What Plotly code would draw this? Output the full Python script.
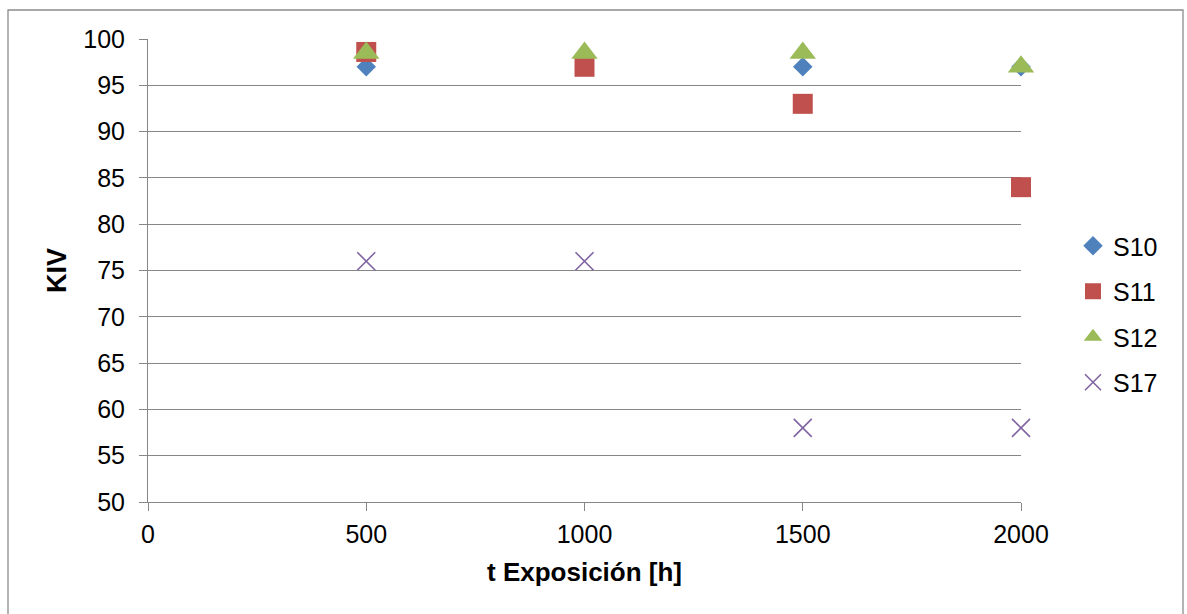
import plotly.graph_objects as go

x_hours = [500, 1000, 1500, 2000]
s10 = [97, 97, 97, 97]
s11 = [98.6, 97, 93, 84]
s12 = [98.5, 98.5, 98.5, 97]
s17 = [76, 76, 58, 58]
x_ticks = [0, 500, 1000, 1500, 2000]
y_ticks = [50, 55, 60, 65, 70, 75, 80, 85, 90, 95, 100]

FONT = "Liberation Sans, Arial, sans-serif"
W, H = 1187, 614
L, R, T, B = 148, 166, 39, 112
pw, ph = W - L - R, H - T - B

fig = go.Figure()
fig.add_trace(go.Scatter(x=x_hours, y=s10, mode="markers", name="S10", legendgroup="a",
                         cliponaxis=False,
                         marker=dict(symbol="diamond", size=15, color="#4F81BD")))
fig.add_trace(go.Scatter(x=x_hours, y=s11, mode="markers", name="S11", legendgroup="b",
                         cliponaxis=False,
                         marker=dict(symbol="square", size=20, color="#C0504D")))
fig.add_trace(go.Scatter(x=x_hours, y=s12, mode="markers", name="S12", legendgroup="c",
                         cliponaxis=False,
                         marker=dict(symbol="triangle-up", size=23, color="#9BBB59")))
fig.add_trace(go.Scatter(x=x_hours, y=s17, mode="markers", name="S17", legendgroup="d",
                         cliponaxis=False,
                         marker=dict(symbol="x-thin", size=18, color="#8064A2",
                                     line=dict(color="#8064A2", width=1.6))))

def px_x(p):
    return (p - L) / pw

def px_y(p):
    return (H - B - p) / ph

fig.add_shape(type="rect", xref="paper", yref="paper",
              x0=px_x(8), x1=px_x(1183), y0=px_y(640), y1=px_y(10),
              line=dict(color="#8c8c8c", width=1.3), fillcolor="rgba(0,0,0,0)", layer="below")

fig.update_layout(
    width=W, height=H,
    margin=dict(l=L, r=R, t=T, b=B, autoexpand=False),
    paper_bgcolor="white", plot_bgcolor="white",
    font=dict(family=FONT, size=25, color="black"),
    showlegend=True,
    legend=dict(x=px_x(1073), y=px_y(314), xanchor="left", yanchor="middle",
                font=dict(size=25), tracegroupgap=10, bgcolor="rgba(0,0,0,0)",
                itemsizing="trace"),
    xaxis=dict(range=[0, 2000], tickvals=x_ticks, showgrid=False, zeroline=False,
               showline=True, linecolor="#868686", linewidth=1,
               ticks="outside", ticklen=8, tickcolor="#868686",
               tickfont=dict(size=25), ticklabelstandoff=2,
               title=dict(text="<b>t Exposición [h]</b>", font=dict(size=26), standoff=15)),
    yaxis=dict(range=[50, 100], tickvals=y_ticks, showgrid=True, gridcolor="#868686",
               gridwidth=1, zeroline=False, showline=True, linecolor="#868686", linewidth=1,
               ticks="outside", ticklen=8, tickcolor="#868686",
               tickfont=dict(size=25), ticklabelstandoff=9,
               title=dict(text="<b>KIV</b>", font=dict(size=27), standoff=8)),
)

fig.write_html("out.html")
